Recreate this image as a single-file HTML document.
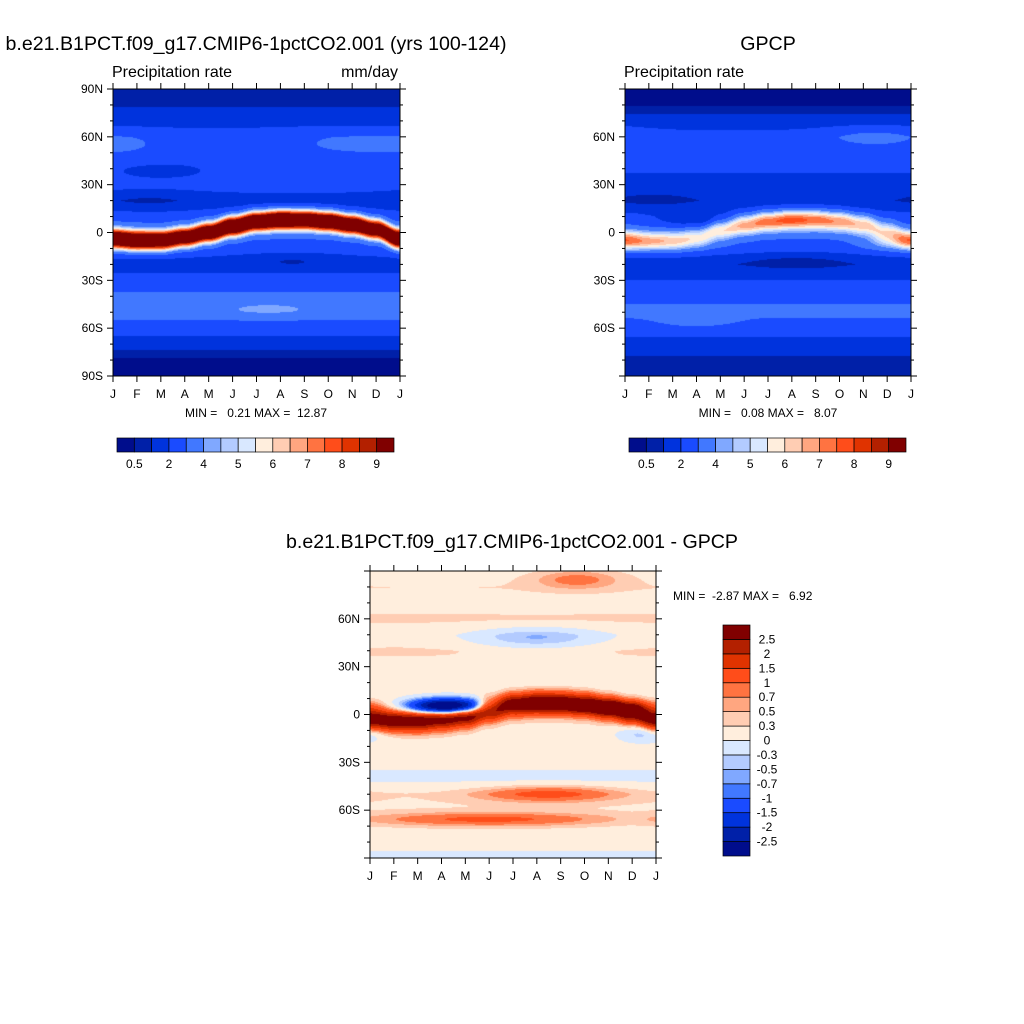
<!DOCTYPE html>
<html><head><meta charset="utf-8">
<style>
html,body{margin:0;padding:0;background:#fff;}
#root{position:relative;width:1024px;height:1024px;overflow:hidden;font-family:"Liberation Sans",sans-serif;}
canvas{position:absolute;}
svg{position:absolute;left:0;top:0;}
svg text{white-space:pre;}
</style></head>
<body>
<div id="root">
<canvas id="c1" width="287" height="287" style="left:113px;top:89px"></canvas>
<canvas id="c2" width="286" height="287" style="left:625px;top:89px"></canvas>
<canvas id="c3" width="286" height="287" style="left:370px;top:571px"></canvas>
<svg id="ov" width="1024" height="1024"></svg>
</div>
<script>
// ---------- data ----------
const months = ["J","F","M","A","M","J","J","A","S","O","N","D","J"];
const latTicks = [90,60,30,0,-30,-60,-90];
const latLabels = ["90N","60N","30N","0","30S","60S","90S"];
const precipLevels = [0.5,1,2,3,4,4.5,5,5.5,6,6.5,7,7.5,8,8.5,9];
const precipLabels = ["0.5","2","4","5","6","7","8","9"];
const diffLevels = [-2.5,-2,-1.5,-1,-0.7,-0.5,-0.3,0,0.3,0.5,0.7,1,1.5,2,2.5];
const diffLabels = ["-2.5","-2","-1.5","-1","-0.7","-0.5","-0.3","0","0.3","0.5","0.7","1","1.5","2","2.5"];
const palette = ["#000d8c","#0020a8","#0033dd","#1a4bff","#4178ff","#80a8ff","#b3cbff","#d9e8ff","#ffeedd","#ffcdb3","#ffa680","#ff7341","#ff4d1a","#e03300","#b32000","#800000"];
// zonal profile lat 90..-90 step 10
const profileLats = [90,80,70,60,50,40,30,20,10,0,-10,-20,-30,-40,-50,-60,-70,-80,-90];
const modelProfile = [0.8,0.9,1.7,2.4,2.2,2.3,2.5,1.5,2.6,3.0,2.6,1.5,2.4,3.2,3.4,2.6,1.4,0.4,0.3];
const gpcpProfile  = [0.3,0.45,1.5,2.4,2.2,2.1,1.7,1.3,2.5,3.0,2.6,1.3,2.0,2.7,3.3,2.5,1.6,0.8,0.7];
const diffProfile  = [0.2,0.3,0.2,0.35,0.15,0.35,0.2,0.1,0.2,0.2,0.2,0.15,0.1,-0.1,0.3,0.25,0.2,0.15,-0.1];
// ITCZ center latitude and amplitude by month (J..J)
const modelItczLat = [-4,-5,-5,-3,0,4,7,8,8,7,5,2,-4];
const modelItczAmp = [10,10,9.5,9,9.5,10,10,10.5,10,10,9.5,9,10];
const gpcpItczLat  = [-4,-5,-5,-3,2,5,7,8,8,7,5,1,-4];
const gpcpItczAmp  = [2.5,2,2,2.2,3.2,4.2,4.8,5.2,4.8,4.3,3.6,2.6,2.5];
const diffItczLat  = [-3,-4,-4,-3,-1,3,6,7,7,6,4,1,-3];
const diffItczAmp  = [3.0,3.0,3.0,2.8,3.0,3.2,3.3,3.4,3.3,3.2,3.1,3.0,3.0];
// local anomalies: [month, lat, amp, sdMonth, sdLat]
const modelBlobs = [[1.5,20,-0.7,1.5,5],[7.5,-17,-0.8,1.5,3],[6.5,-48,0.9,1.5,3],[10,55,0.9,2,6],[0.5,55,0.6,1.2,5],[2,38,-0.6,1.5,4]];
const gpcpBlobs  = [[1.2,20,-0.6,1.6,5],[7.2,-18,-0.9,1.8,4],[3,-55,1.0,1,3],[10.5,60,1.0,1.5,5],[1.5,-6,1.6,1.5,4],[11.5,-6,1.6,1,4],[3,8,-1.2,1.3,4]];
const diffBlobs  = [[3.3,5,-4.2,1.2,3.5],[7.5,-50,0.9,2,3.5],[5,-66,0.9,3.5,3],[7,48,-0.7,2,5],[8.7,85,0.6,1.2,4],[11.5,-12,-0.6,0.8,4],[10.5,5,1.0,1.3,3]];

// ---------- rendering ----------
function hex(c){return [parseInt(c.substr(1,2),16),parseInt(c.substr(3,2),16),parseInt(c.substr(5,2),16)];}
const rgb = palette.map(hex);
function interp(arrX, arrY, x){
  for(let i=0;i<arrX.length-1;i++){
    const a=arrX[i],b=arrX[i+1];
    if((x<=a&&x>=b)||(x>=a&&x<=b)){const t=(x-a)/(b-a);return arrY[i]+(arrY[i+1]-arrY[i])*t;}
  }
  return arrY[arrY.length-1];
}
function monthInterp(arr,m){const i=Math.min(11,Math.floor(m));const t=m-i;
  const s=(1-Math.cos(Math.PI*t))/2;return arr[i]+(arr[i+1]-arr[i])*s;}
function makeField(profile,itLat,itAmp,blobs,sig){
  return function(m,lat){
    let v=interp(profileLats,profile,lat);
    const c=monthInterp(itLat,m),a=monthInterp(itAmp,m);
    v+=a*Math.exp(-Math.pow(lat-c,2)/(2*sig*sig));
    for(const b of blobs){
      const dm=Math.min(Math.abs(m-b[0]),12-Math.abs(m-b[0]));
      v+=b[2]*Math.exp(-dm*dm/(2*b[3]*b[3])-Math.pow(lat-b[1],2)/(2*b[4]*b[4]));
    }
    return v;
  };
}
function render(id,field,levels){
  const cv=document.getElementById(id),ctx=cv.getContext('2d');
  const W=cv.width,H=cv.height,img=ctx.createImageData(W,H);
  for(let y=0;y<H;y++){const lat=90-180*y/(H-1);
    for(let x=0;x<W;x++){const m=12*x/(W-1);
      const v=field(m,lat);let k=0;while(k<levels.length&&v>=levels[k])k++;
      const c=rgb[k],p=(y*W+x)*4;img.data[p]=c[0];img.data[p+1]=c[1];img.data[p+2]=c[2];img.data[p+3]=255;}}
  ctx.putImageData(img,0,0);
}
render('c1',makeField(modelProfile,modelItczLat,modelItczAmp,modelBlobs,4.2),precipLevels);
render('c2',makeField(gpcpProfile,gpcpItczLat,gpcpItczAmp,gpcpBlobs,4.5),precipLevels);
render('c3',makeField(diffProfile,diffItczLat,diffItczAmp,diffBlobs,4.6),diffLevels);

// ---------- axes ----------
const NS='http://www.w3.org/2000/svg', ov=document.getElementById('ov');
function el(tag,attrs,parent){const e=document.createElementNS(NS,tag);for(const k in attrs)e.setAttribute(k,attrs[k]);(parent||ov).appendChild(e);return e;}
function txt(s,x,y,size,anchor,name){const t=el('text',{x:x,y:y,'font-size':size,'text-anchor':anchor||'middle',fill:'#000','font-family':'Liberation Sans, sans-serif'});t.textContent=s;
  
  
  return t;}
function axes(x0,y0,w,h,showPoles,prefix){
  const g=el('g',{});
  
  
  el('rect',{x:x0,y:y0,width:w,height:h,fill:'none',stroke:'#000','stroke-width':1},g);
  const lx=m=>x0+w*m/12, ly=l=>y0+h*(90-l)/180;
  months.forEach((s,i)=>{const x=lx(i);
    el('line',{x1:x,y1:y0+h,x2:x,y2:y0+h+6,stroke:'#000'},g);
    el('line',{x1:x,y1:y0,x2:x,y2:y0-6,stroke:'#000'},g);
    txt(s,x,y0+h+22,12,'middle',prefix+'-month-label');});
  for(let l=-90;l<=90;l+=10){const y=ly(l),maj=(l%30===0),len=maj?6:3;
    el('line',{x1:x0,y1:y,x2:x0-len,y2:y,stroke:'#000'},g);
    el('line',{x1:x0+w,y1:y,x2:x0+w+len,y2:y,stroke:'#000'},g);}
  latTicks.forEach((l,i)=>{if(!showPoles&&Math.abs(l)===90)return;
    txt(latLabels[i],x0-10,ly(l)+4,12,'end',prefix+'-lat-label');});
}
axes(113,89,287,287,true,'model');
axes(625,89,286,287,false,'gpcp');
axes(370,571,286,287,false,'diff');

function hbar(x0,y0,w,h,prefix){
  const bw=w/16;
  palette.forEach((c,i)=>{const r=el('rect',{x:x0+i*bw,y:y0,width:bw,height:h,fill:c,stroke:'#000','stroke-width':0.7});
    
    });
  precipLabels.forEach((s,i)=>txt(s,x0+bw*(1+2*i),y0+h+16,12,'middle',prefix+'-colorbar-label'));
}
hbar(117,438,277,14,'model');
hbar(629,438,277,14,'gpcp');
(function(){const x0=723,y0=625,w=27,h=231,bh=h/16;
  palette.forEach((c,i)=>{const r=el('rect',{x:x0,y:y0+h-(i+1)*bh,width:w,height:bh,fill:c,stroke:'#000','stroke-width':0.7});
    
    });
  diffLabels.forEach((s,i)=>txt(s,x0+w+17,y0+h-(i+1)*bh+4,12,'middle','diff-colorbar-label'));
})();

txt('b.e21.B1PCT.f09_g17.CMIP6-1pctCO2.001 (yrs 100-124)',256,50,19.6,'middle','model-title');
txt('Precipitation rate',112,77,16,'start','model-subtitle');
txt('mm/day',398,77,16,'end','model-units');
txt('MIN =   0.21 MAX =  12.87',256,417,12,'middle','model-minmax');
txt('GPCP',768,50,19.6,'middle','gpcp-title');
txt('Precipitation rate',624,77,16,'start','gpcp-subtitle');
txt('MIN =   0.08 MAX =   8.07',768,417,12,'middle','gpcp-minmax');
txt('b.e21.B1PCT.f09_g17.CMIP6-1pctCO2.001 - GPCP',512,548,19.6,'middle','diff-title');
txt('MIN =  -2.87 MAX =   6.92',673,600,12,'start','diff-minmax');
</script>
</body></html>
